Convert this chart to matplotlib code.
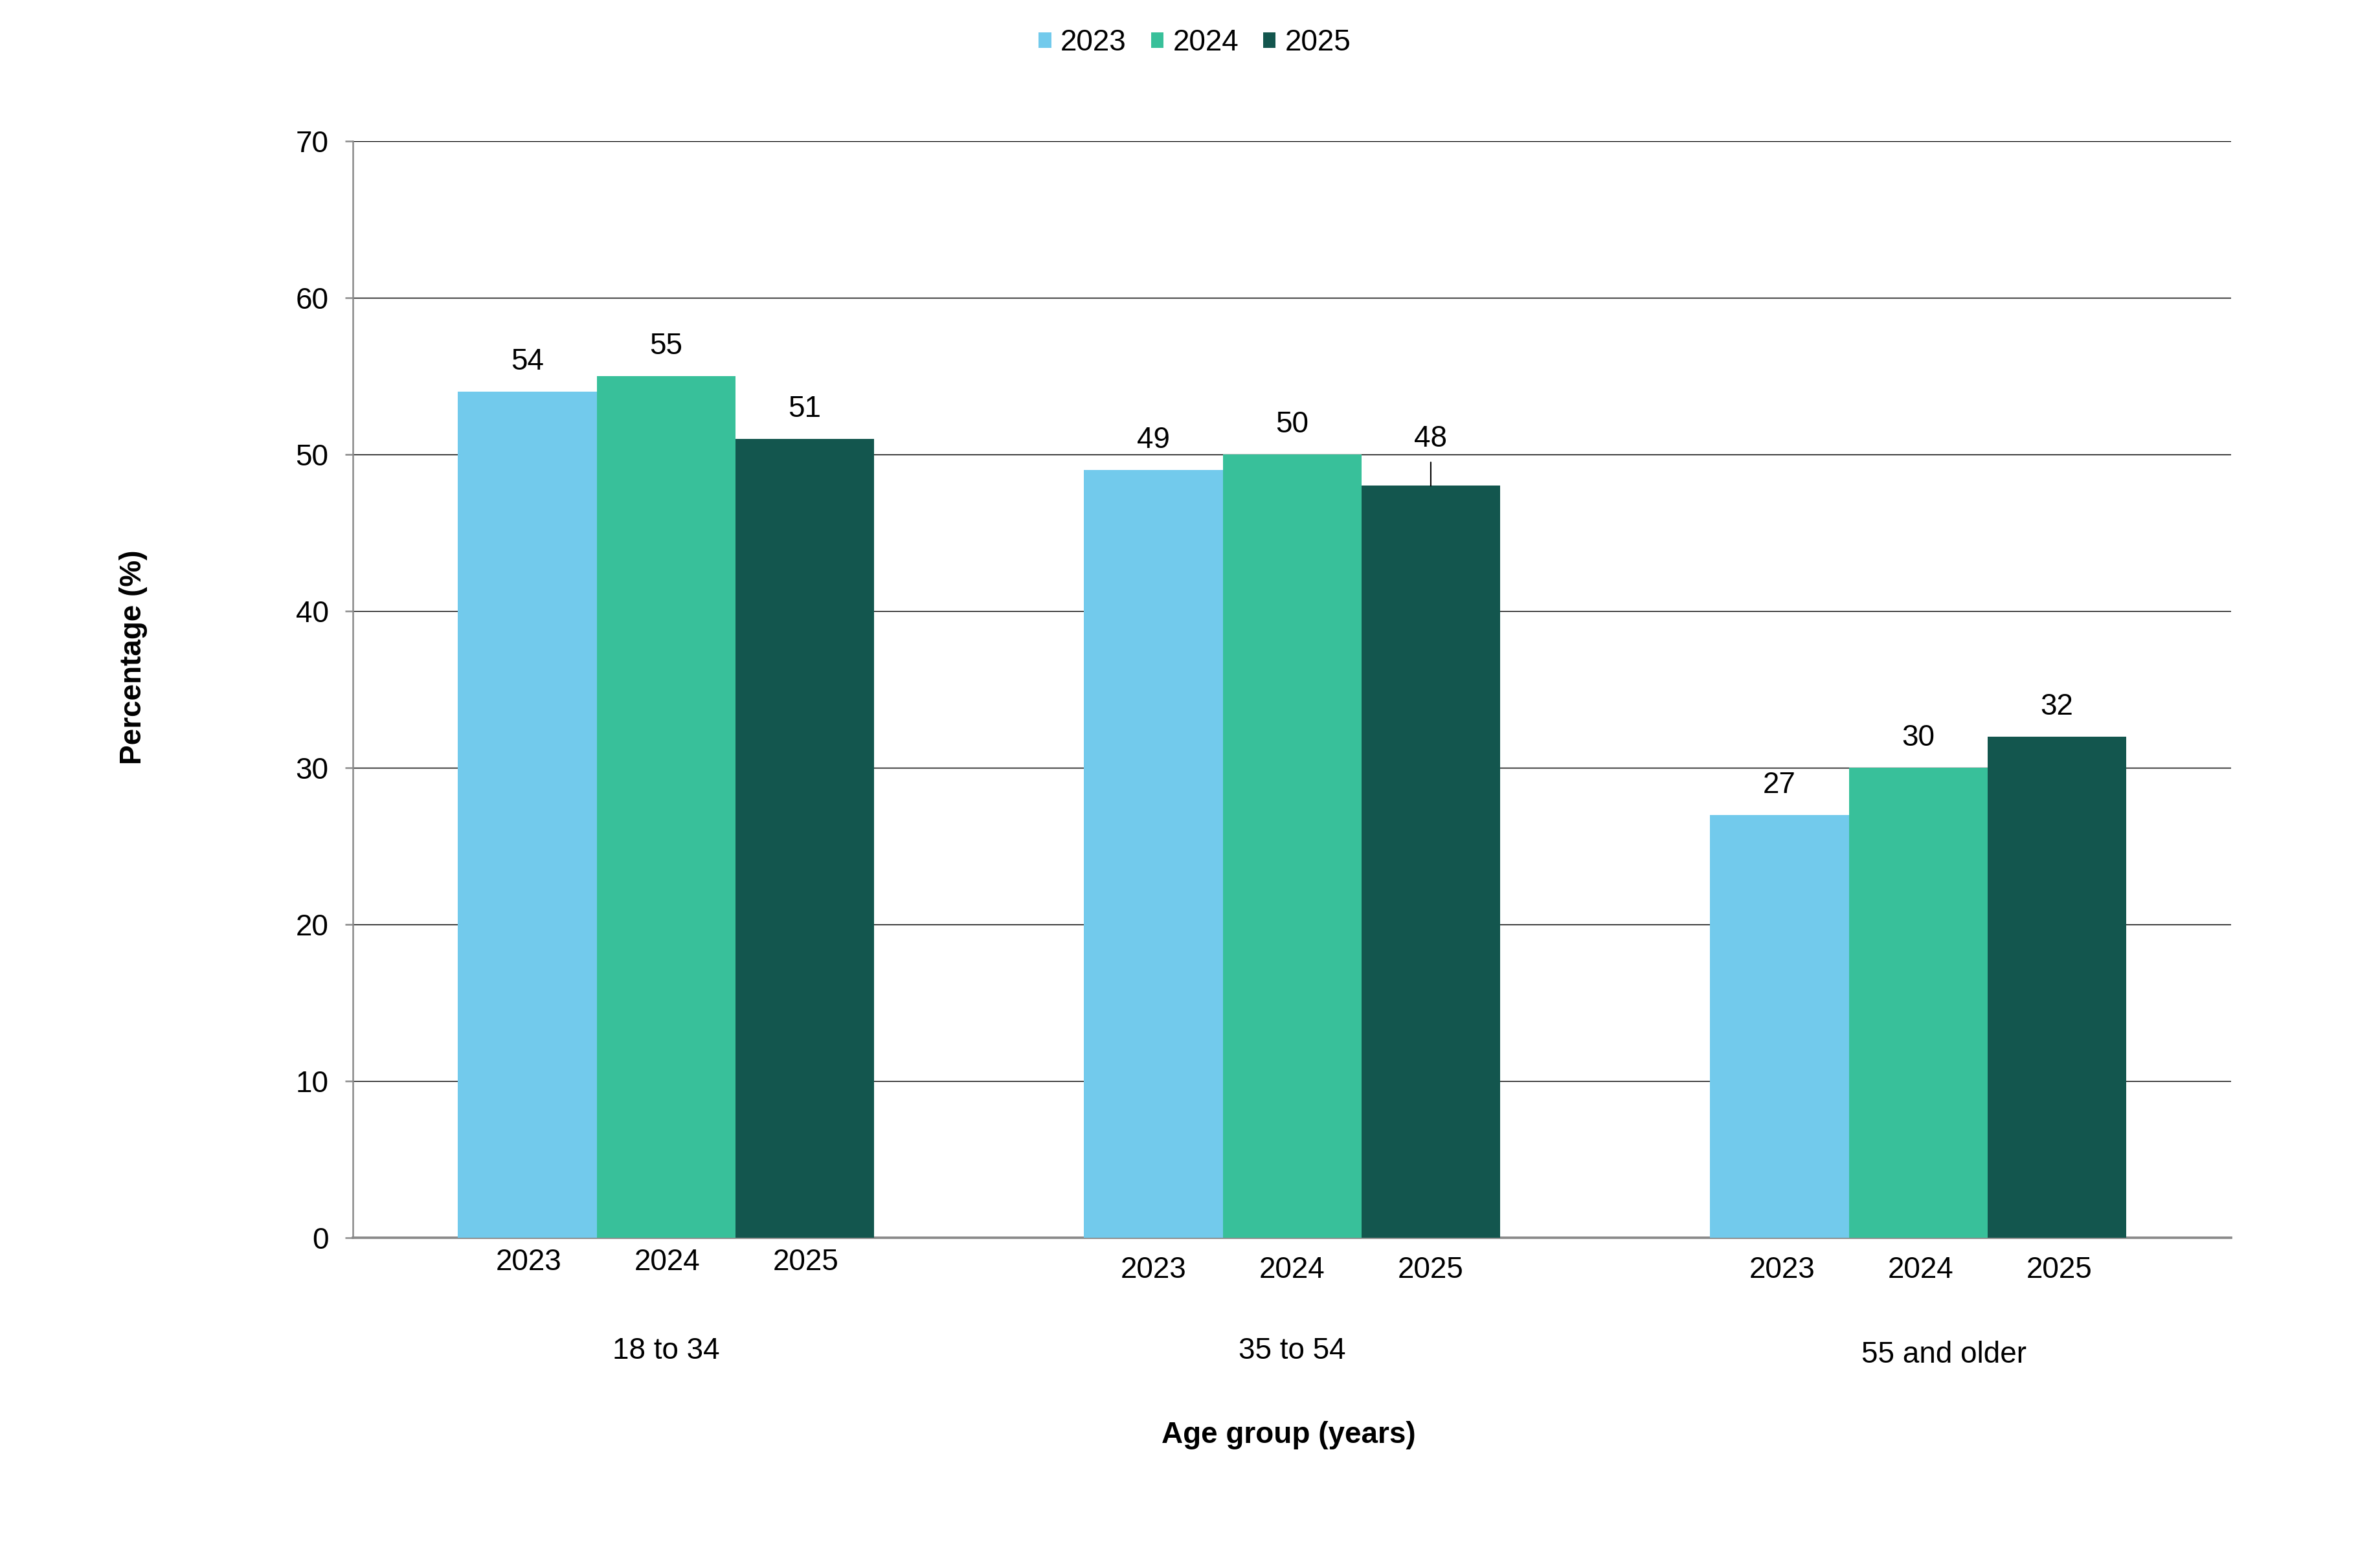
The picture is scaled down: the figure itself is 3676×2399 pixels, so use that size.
import matplotlib
matplotlib.use("Agg")
import matplotlib.pyplot as plt
import numpy as np

plt.rcParams['font.family'] = ['Liberation Sans', 'DejaVu Sans']

groups = ["18 to 34", "35 to 54", "55 and older"]
years = ["2023", "2024", "2025"]
v2023 = [54, 49, 27]
v2024 = [55, 50, 30]
v2025 = [51, 48, 32]
colors = ["#72CAEC", "#38C09A", "#13564E"]

series = [v2023, v2024, v2025]
x = np.arange(len(groups))
width = 0.2215

fig = plt.figure(figsize=(3676 / 300, 2399 / 300), dpi=300)
ax = fig.add_axes([0.1483, 0.203, 0.9375 - 0.1483, 0.9091 - 0.203])

bars = []
for k in range(3):
    b = ax.bar(x + (k - 1) * width, series[k], width, color=colors[k],
               label=years[k], zorder=3)
    bars.append(b)

ax.set_xlim(-0.5, 2.5)
ax.set_ylim(0, 70)
ax.set_yticks(range(0, 71, 10))
ax.yaxis.grid(True, color='#000000', linewidth=0.35, zorder=0)
ax.set_axisbelow(True)
for s in ['top', 'right']:
    ax.spines[s].set_visible(False)
ax.spines['left'].set_color('#898989')
ax.spines['left'].set_linewidth(0.6)
ax.spines['bottom'].set_color('#898989')
ax.spines['bottom'].set_linewidth(0.9)
ax.tick_params(axis='y', length=3, width=0.6, color='#898989', labelsize=11, pad=6)
ax.set_xticks([])

# data labels
for k in range(3):
    for i, rect in enumerate(bars[k]):
        h = rect.get_height()
        cx = rect.get_x() + rect.get_width() / 2
        if k == 2 and i == 1:
            ax.annotate(str(h), xy=(cx, h), xytext=(0, 17.5), textcoords='offset points',
                        ha='center', va='center', fontsize=11,
                        arrowprops=dict(arrowstyle='-', color='black', lw=0.5,
                                        shrinkA=1.5, shrinkB=0))
        else:
            ax.annotate(str(h), xy=(cx, h), xytext=(0, 11), textcoords='offset points',
                        ha='center', va='center', fontsize=11)

# year labels under each bar, then group labels
year_off = [(0.5, -9), (0, -12), (1, -12)]
group_off = [(0, -42), (0, -42), (9.5, -43.5)]
for i in range(len(groups)):
    for k in range(3):
        ax.annotate(years[k], xy=(x[i] + (k - 1) * width, 0), xycoords=('data', 'axes fraction'),
                    xytext=year_off[i], textcoords='offset points',
                    ha='center', va='center', fontsize=11)
    ax.annotate(groups[i], xy=(x[i], 0), xycoords=('data', 'axes fraction'),
                xytext=group_off[i], textcoords='offset points',
                ha='center', va='center', fontsize=11)

fig.text(0.5415, 1 - 2217 / 2399, "Age group (years)", ha='center', va='center',
         fontsize=11, fontweight='bold')
fig.text(206 / 3676, 1 - 1015 / 2399, "Percentage (%)", ha='center', va='center',
         rotation=90, fontsize=11, fontweight='bold')

fig.legend(loc='center', bbox_to_anchor=(0.502, 1 - 66 / 2399), ncol=3, frameon=False,
           fontsize=11, handlelength=0.42, handleheight=0.42, handletextpad=0.32,
           columnspacing=0.82)

fig.savefig("out.png", dpi=300)
